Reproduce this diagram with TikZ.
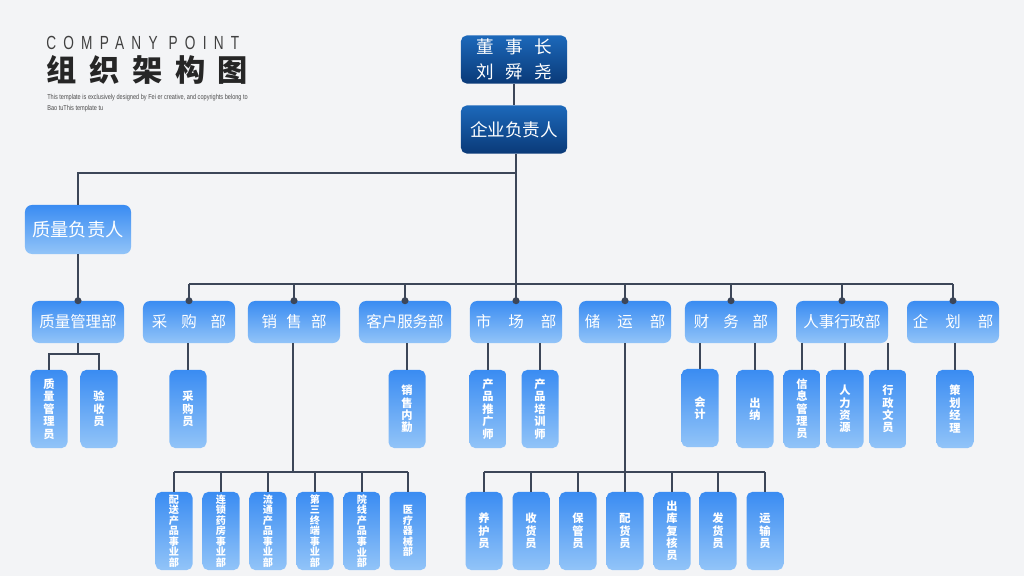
\documentclass[tikz,border=0pt]{standalone}
\usepackage{fontspec}
\usepackage{xcolor}
\setmainfont{Noto Sans CJK SC}
\newfontfamily\capsfont[FakeStretch=0.72,LetterSpace=38]{Liberation Sans}
\newfontfamily\headfont[LetterSpace=42]{Noto Sans CJK SC}
\newfontfamily\notefont[FakeStretch=0.78]{Liberation Sans}
\definecolor{bgc}{HTML}{F3F4F6}
\definecolor{linec}{HTML}{3C4658}
\definecolor{lighttop}{HTML}{3A8CF2}
\definecolor{lightbot}{HTML}{92C4F8}
\definecolor{darktop}{HTML}{1C68BA}
\definecolor{darkbot}{HTML}{0A3A78}
\usetikzlibrary{positioning}

\begin{document}
\begin{tikzpicture}[x=0.025cm, y=-0.025cm,
    link/.style={draw=linec, line width=1.4pt},
    darkbox/.style={rounded corners=4pt, top color=darktop, bottom color=darkbot, text=white,
        minimum width=2.65cm, minimum height=1.2cm, inner sep=0pt, align=center,
        font=\fontsize{12.5}{17.5}\selectfont},
    headbox/.style={rounded corners=5pt, top color=lighttop, bottom color=lightbot, text=white,
        minimum width=2.65cm, minimum height=1.225cm, inner sep=0pt,
        font=\fontsize{13}{15}\selectfont},
    deptbox/.style={rounded corners=5pt, top color=lighttop, bottom color=lightbot, text=white,
        minimum width=2.3cm, minimum height=1.05cm, inner sep=0pt,
        font=\fontsize{11}{13}\selectfont},
    postbox/.style={rounded corners=4pt, top color=lighttop, bottom color=lightbot, text=white,
        minimum width=0.925cm, minimum height=1.95cm, inner sep=0pt, align=center,
        font=\bfseries\fontsize{8}{8.8}\selectfont},
    unitbox/.style={postbox, font=\bfseries\fontsize{7.2}{7.5}\selectfont},
    dot/.style={fill=linec, circle, inner sep=0pt, minimum size=5pt}]

    \fill[bgc] (0,0) rectangle (1024,576);
    \useasboundingbox (0,0) rectangle (1024,576);

    % title block
    \node[anchor=west, inner sep=0pt, text=black!75, font=\capsfont\fontsize{13.5}{14}\selectfont] (caps) at (46,43) {COMPANY POINT};
    \node[anchor=west, inner sep=0pt, text=black!85, font=\headfont\bfseries\fontsize{21.5}{24}\selectfont] (head) at (46,70) {组织架构图};
    \node[anchor=north west, inner sep=0pt, align=left, text=black!70, font=\notefont\fontsize{5.1}{7.8}\selectfont] (note) at (47,94)
        {This template is exclusively designed by Fei er creative, and copyrights belong to\\Bao tuThis template tu};

    % top of the chart
    \node[darkbox] (boss) at (514,59.5) {董\hspace{0.65em}事\hspace{0.65em}长\\刘\hspace{0.65em}舜\hspace{0.65em}尧};
    \node[darkbox] (ceo) at (514,129.5) {企业负责人};
    \node[headbox] (qhead) at (78,229.5) {质量负责人};
    \coordinate (topbus) at (516,173);
    \coordinate (deptbus) at (516,284);
    \draw[link] (boss) -- (ceo);
    \draw[link] (ceo.south -| topbus) -- (deptbus);
    \draw[link] (topbus) -| (qhead.north);

    % departments
    \node[deptbox] (dqm) at (78,322) {质量管理部};
    \node[deptbox] (dcg) at (189,322) {采\hspace{0.9em}购\hspace{0.9em}部};
    \node[deptbox] (dxs) at (294,322) {销\hspace{0.6em}售\hspace{0.6em}部};
    \node[deptbox] (dkf) at (405,322) {客户服务部};
    \node[deptbox] (dsc) at (516,322) {市\hspace{1.1em}场\hspace{1.1em}部};
    \node[deptbox] (dcy) at (625,322) {储\hspace{1.1em}运\hspace{1.1em}部};
    \node[deptbox] (dcw) at (731,322) {财\hspace{0.9em}务\hspace{0.9em}部};
    \node[deptbox] (drs) at (842,322) {人事行政部};
    \node[deptbox] (dqh) at (953,322) {企\hspace{1.1em}划\hspace{1.1em}部};
    \draw[link] (qhead) -- (dqm);
    \node[dot] at (dqm.north) {};
    \draw[link] (dcg.north |- deptbus) -- (dqh.north |- deptbus);
    \foreach \d in {dcg,dxs,dkf,dsc,dcy,dcw,drs,dqh} {
        \draw[link] (\d.north |- deptbus) -- (\d.north);
        \node[dot] at (\d.north) {};
    }

    % posts under the departments
    \node[postbox] (zlgly) at (49,409) {质\\量\\管\\理\\员};
    \node[postbox] (ysy) at (99,409) {验\\收\\员};
    \node[postbox] (cgy) at (188,409) {采\\购\\员};
    \node[postbox] (xsnq) at (407,409) {销\\售\\内\\勤};
    \node[postbox] (cptgs) at (488,409) {产\\品\\推\\广\\师};
    \node[postbox] (cppxs) at (540,409) {产\\品\\培\\训\\师};
    \node[postbox] (kj) at (700,408) {会\\计};
    \node[postbox] (cn) at (755,409) {出\\纳};
    \node[postbox] (xxgly) at (802,409) {信\\息\\管\\理\\员};
    \node[postbox] (rlzy) at (845,409) {人\\力\\资\\源};
    \node[postbox] (xzwy) at (888,409) {行\\政\\文\\员};
    \node[postbox] (chjl) at (955,409) {策\\划\\经\\理};

    \coordinate (qmbus) at (78,354);
    \draw[link] (dqm.south) -- (qmbus);
    \draw[link] (zlgly.north) |- (qmbus) -| (ysy.north);
    \foreach \p/\d in {cgy/dcg,xsnq/dkf,cptgs/dsc,cppxs/dsc,kj/dcw,cn/dcw,xxgly/drs,rlzy/drs,xzwy/drs,chjl/dqh}
        \draw[link] (\p.north) -- (\p.north |- \d.south);

    % sales units
    \coordinate (xsbus) at (293,472);
    \draw[link] (dxs.south -| xsbus) -- (xsbus);
    \foreach \n/\x/\t in {xs1/174/{配\\送\\产\\品\\事\\业\\部},xs2/221/{连\\锁\\药\\房\\事\\业\\部},
            xs3/268/{流\\通\\产\\品\\事\\业\\部},xs4/315/{第\\三\\终\\端\\事\\业\\部},
            xs5/362/{院\\线\\产\\品\\事\\业\\部},xs6/408/{医\\疗\\器\\械\\部}} {
        \node[unitbox] (\n) at (\x,531) {\t};
        \draw[link] (\n.north) -- (\n.north |- xsbus);
    }
    \draw[link] (xs1.north |- xsbus) -- (xs6.north |- xsbus);

    % storage posts
    \coordinate (cybus) at (625,472);
    \draw[link] (dcy.south) -- (cybus);
    \foreach \n/\x/\t in {cy1/484/{养\\护\\员},cy2/531/{收\\货\\员},cy3/578/{保\\管\\员},
            cy4/625/{配\\货\\员},cy5/672/{出\\库\\复\\核\\员},cy6/718/{发\\货\\员},cy7/765/{运\\输\\员}} {
        \node[postbox] (\n) at (\x,531) {\t};
        \draw[link] (\n.north) -- (\n.north |- cybus);
    }
    \draw[link] (cy1.north |- cybus) -- (cy7.north |- cybus);
\end{tikzpicture}
\end{document}
